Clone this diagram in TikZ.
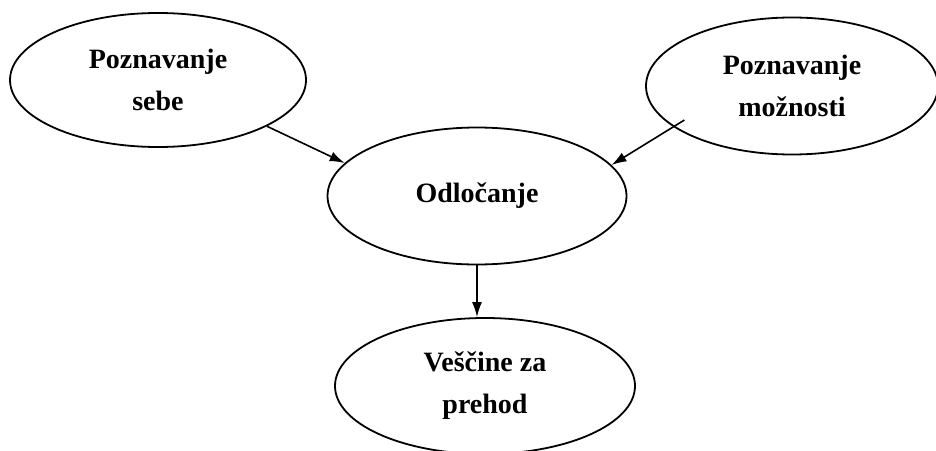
\documentclass[tikz,border=0pt]{standalone}
\usepackage{fontspec}
\setmainfont{Liberation Serif}
\usetikzlibrary{shapes.geometric,arrows.meta}
\tikzset{topic node/.style={ellipse, draw, line width=1.8pt, inner sep=0pt,
    align=center, font=\fontsize{28}{42}\selectfont\bfseries},
    link/.style={line width=1.6pt, -{Latex[length=15pt,width=10pt]}},
    }
\begin{document}
\begin{tikzpicture}[x=1pt,y=-1pt]
\useasboundingbox (0,0) rectangle (936,450);
\node[topic node, minimum width=296pt, minimum height=134pt] (sebe) at (158,80) {Poznavanje\\sebe};
\node[topic node, minimum width=292pt, minimum height=137pt] (moznosti) at (792,86) {Poznavanje\\možnosti};
\node[topic node, minimum width=299pt, minimum height=137pt] (odlocanje) at (477,196) {Odločanje};
\node[topic node, minimum width=300pt, minimum height=136pt] (prehod) at (485,386) {Veščine za\\prehod};
% arrows into the middle
\draw[link] (sebe.-23.6) -- (odlocanje.166.6);
\draw[link, shorten <=-13pt] (moznosti.199.6) -- (odlocanje.13.4);
\draw[link] (odlocanje.south) -- (odlocanje.south |- prehod.north);
\end{tikzpicture}
\end{document}
